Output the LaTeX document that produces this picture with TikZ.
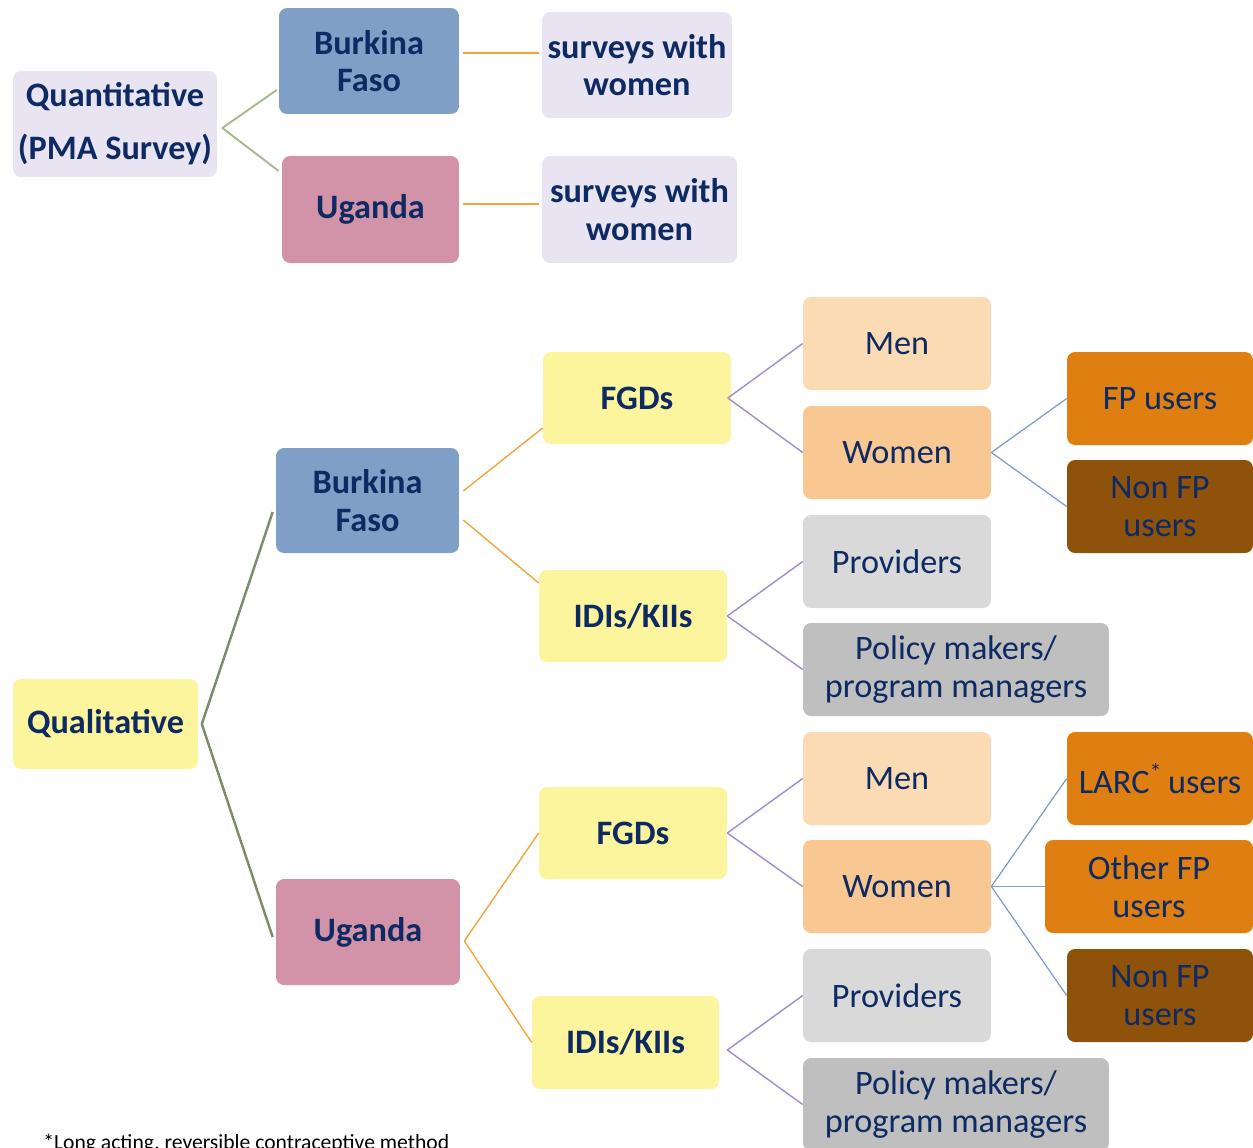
\documentclass[tikz,border=0pt]{standalone}
\usepackage{fontspec}
\setmainfont{Carlito}
\usetikzlibrary{positioning}

\definecolor{navy}{HTML}{0E2A62}
\definecolor{lavender}{HTML}{E8E4F1}
\definecolor{steel}{HTML}{7F9FC6}
\definecolor{rose}{HTML}{D292A7}
\definecolor{lemon}{HTML}{FCF59E}
\definecolor{peachlight}{HTML}{FBDBB4}
\definecolor{peach}{HTML}{F8C792}
\definecolor{amber}{HTML}{DF7F12}
\definecolor{rust}{HTML}{8F520B}
\definecolor{greylight}{HTML}{D9D9D9}
\definecolor{greymid}{HTML}{BFBFBF}
\definecolor{lgreen}{HTML}{A7B98F}
\definecolor{lolive}{HTML}{7E8D69}
\definecolor{lorange}{HTML}{F4A53A}
\definecolor{lpurple}{HTML}{A08CCA}
\definecolor{lblue}{HTML}{7D9BCB}

\begin{document}
\begin{tikzpicture}[x=0.02cm, y=-0.02cm,
    every node/.style={font=\fontsize{19.5}{21.5}\selectfont, text=navy},
    box/.style={rectangle, rounded corners=0.16cm, inner sep=0pt, align=center, minimum width=3.76cm, minimum height=1.86cm},
    bbox/.style={box, font=\fontsize{19.5}{21.5}\selectfont\bfseries}]
    \useasboundingbox (0,0) rectangle (1253,1147);

    % quantitative part
    \node (quant) [bbox, fill=lavender, minimum width=4.08cm, minimum height=2.12cm] at (115,124) {Quantitative\\[0.3cm](PMA Survey)};
    \node (bfA) [bbox, fill=steel, minimum width=3.6cm, minimum height=2.12cm] at (369,61) {Burkina\\Faso};
    \node (ugA) [bbox, fill=rose, minimum width=3.54cm, minimum height=2.14cm] at (370.5,209.5) {Uganda};
    \node (survA) [bbox, fill=lavender, minimum width=3.8cm, minimum height=2.12cm] at (637,65) {surveys with\\women};
    \node (survB) [bbox, fill=lavender, minimum width=3.9cm, minimum height=2.14cm] at (639.5,209.5) {surveys with\\women};

    \draw[lgreen, line width=1.1pt] ([shift={(5,4)}]quant.east) -- ([shift={(-2,29)}]bfA.west);
    \draw[lgreen, line width=1.1pt] ([shift={(5,4)}]quant.east) -- ([shift={(-3,-38.5)}]ugA.west);
    \draw[lorange, line width=0.9pt] ([shift={(4,-8)}]bfA.east) -- ([shift={(-3,-12)}]survA.west);
    \draw[lorange, line width=0.9pt] ([shift={(4,-5.5)}]ugA.east) -- ([shift={(-3,-5.5)}]survB.west);

    % qualitative part
    \node (qual) [bbox, fill=lemon, minimum width=3.7cm, minimum height=1.8cm] at (105.5,724) {Qualitative};
    \node (bfB) [bbox, fill=steel, minimum width=3.66cm, minimum height=2.1cm] at (367.5,500.5) {Burkina\\Faso};
    \node (ugB) [bbox, fill=rose, minimum width=3.68cm, minimum height=2.12cm] at (368,932) {Uganda};

    \node (fgdA) [bbox, fill=lemon, minimum height=1.84cm] at (637,398) {FGDs};
    \node (idiA) [bbox, fill=lemon, minimum height=1.84cm] at (633,616) {IDIs/KIIs};
    \node (menA) [box, fill=peachlight] at (897,343.5) {Men};
    \node (womA) [box, fill=peach] at (897,452.5) {Women};
    \node (fpA) [box, fill=amber, minimum width=3.72cm] at (1160,398.5) {FP users};
    \node (nonA) [box, fill=rust, minimum width=3.72cm] at (1160,506.5) {Non FP\\users};
    \node (provA) [box, fill=greylight] at (897,561.5) {Providers};
    \node (polA) [box, fill=greymid, minimum width=6.12cm] at (956,669.5) {Policy makers/\\program managers};

    \node (fgdB) [bbox, fill=lemon, minimum height=1.84cm] at (633,833) {FGDs};
    \node (idiB) [bbox, fill=lemon, minimum width=3.74cm] at (625.5,1042.5) {IDIs/KIIs};
    \node (menB) [box, fill=peachlight] at (897,778.5) {Men};
    \node (womB) [box, fill=peach] at (897,886.5) {Women};
    \node (larc) [box, fill=amber, minimum width=3.72cm] at (1160,778.5) {LARC\textsuperscript{*}\,users};
    \node (other) [box, fill=amber, minimum width=4.16cm] at (1149,886.5) {Other FP\\users};
    \node (nonB) [box, fill=rust, minimum width=3.72cm] at (1160,995.5) {Non FP\\users};
    \node (provB) [box, fill=greylight] at (897,995.5) {Providers};
    \node (polB) [box, fill=greymid, minimum width=6.12cm] at (956,1104.5) {Policy makers/\\program managers};

    \node (note) [anchor=base west, inner sep=0pt, font=\fontsize{12.3}{14}\selectfont, text=black] at (43,1149) {*Long acting, reversible contraceptive method};

    \draw[lolive, line width=1.4pt] ([xshift=2]qual.east) -- ([shift={(-3,11.5)}]bfB.west);
    \draw[lolive, line width=1.4pt] ([xshift=2]qual.east) -- ([shift={(-3,5)}]ugB.west);

    \draw[lorange, line width=0.8pt] ([shift={(4,-9.5)}]bfB.east) -- ([shift={(0,30)}]fgdA.west);
    \draw[lorange, line width=0.8pt] ([shift={(4,19.5)}]bfB.east) -- ([shift={(0,-33)}]idiA.west);
    \draw[lorange, line width=0.8pt] ([shift={(4,9)}]ugB.east) -- (fgdB.west);
    \draw[lorange, line width=0.8pt] ([shift={(4,9)}]ugB.east) -- (idiB.west);

    \draw[lpurple, line width=0.8pt] ([xshift=-2]fgdA.east) -- (menA.west);
    \draw[lpurple, line width=0.8pt] ([xshift=-2]fgdA.east) -- (womA.west);
    \draw[lpurple, line width=0.8pt] (idiA.east) -- (provA.west);
    \draw[lpurple, line width=0.8pt] (idiA.east) -- (polA.west);
    \draw[lpurple, line width=0.8pt] (fgdB.east) -- (menB.west);
    \draw[lpurple, line width=0.8pt] (fgdB.east) -- (womB.west);
    \draw[lpurple, line width=0.8pt] ([shift={(8,7.5)}]idiB.east) -- (provB.west);
    \draw[lpurple, line width=0.8pt] ([shift={(8,7.5)}]idiB.east) -- (polB.west);

    \draw[lblue, line width=0.7pt] (womA.east) -- (fpA.west);
    \draw[lblue, line width=0.7pt] (womA.east) -- (nonA.west);
    \draw[lblue, line width=0.7pt] (womB.east) -- (larc.west);
    \draw[lblue, line width=0.7pt] (womB.east) -- (other.west);
    \draw[lblue, line width=0.7pt] (womB.east) -- (nonB.west);
\end{tikzpicture}
\end{document}
